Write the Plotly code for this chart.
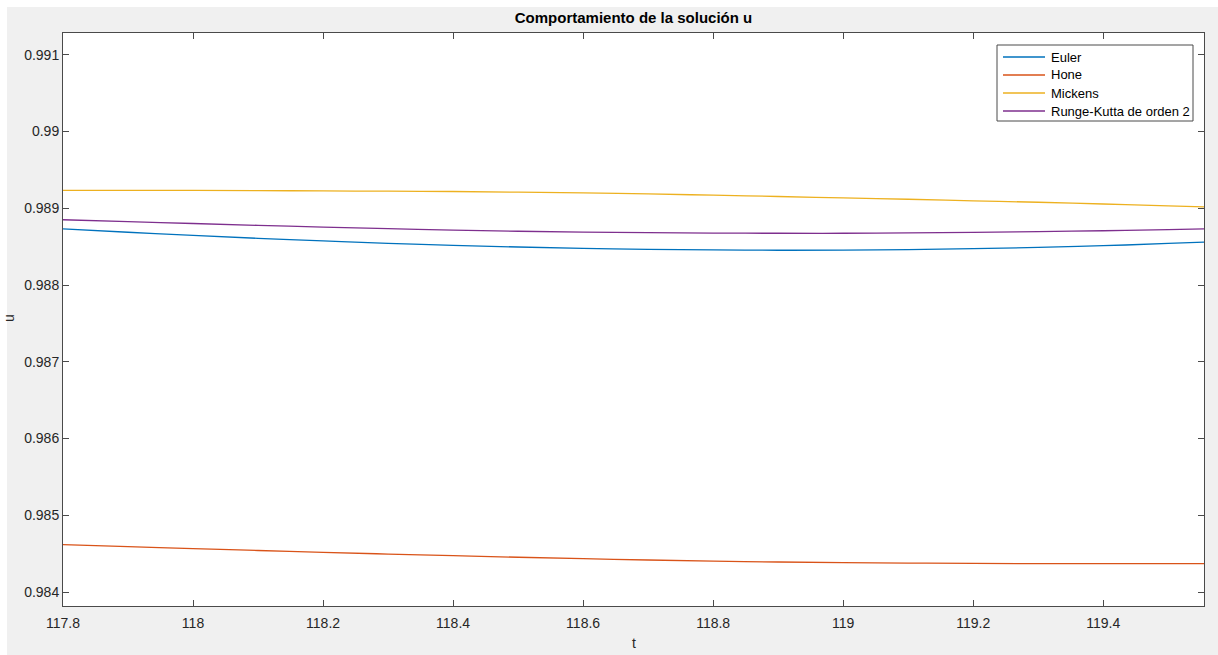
import plotly.graph_objects as go

# Time samples (t) and the four numerical solutions for u
t = [117.8, 117.9, 118.0, 118.1, 118.2, 118.3, 118.4, 118.5, 118.6, 118.7,
     118.8, 118.9, 119.0, 119.1, 119.2, 119.3, 119.4, 119.5, 119.555]

euler = [0.988730, 0.988687, 0.988646, 0.988608, 0.988575, 0.988543, 0.988517,
         0.988495, 0.988478, 0.988465, 0.988457, 0.988453, 0.988455, 0.988461,
         0.988473, 0.988490, 0.988512, 0.988541, 0.988559]

hone = [0.984618, 0.984592, 0.984565, 0.984541, 0.984517, 0.984495, 0.984474,
        0.984453, 0.984434, 0.984417, 0.984403, 0.984391, 0.984382, 0.984377,
        0.984373, 0.984370, 0.984369, 0.984369, 0.984370]

mickens = [0.989234, 0.989234, 0.989233, 0.989230, 0.989226, 0.989222, 0.989218,
           0.989210, 0.989200, 0.989187, 0.989170, 0.989153, 0.989135, 0.989117,
           0.989097, 0.989078, 0.989055, 0.989032, 0.989018]

rk2 = [0.988850, 0.988826, 0.988801, 0.988777, 0.988755, 0.988734, 0.988714,
       0.988700, 0.988689, 0.988681, 0.988676, 0.988674, 0.988674, 0.988678,
       0.988685, 0.988696, 0.988707, 0.988722, 0.988730]

series_names = ["Euler", "Hone", "Mickens", "Runge-Kutta de orden 2"]
series_colors = ["#0072BD", "#D95319", "#EDB120", "#7E2F8E"]

x_tickvals = [117.8, 118.0, 118.2, 118.4, 118.6, 118.8, 119.0, 119.2, 119.4]
x_ticktext = ["117.8", "118", "118.2", "118.4", "118.6", "118.8", "119", "119.2", "119.4"]
y_tickvals = [0.984, 0.985, 0.986, 0.987, 0.988, 0.989, 0.990, 0.991]
y_ticktext = ["0.984", "0.985", "0.986", "0.987", "0.988", "0.989", "0.99", "0.991"]

W, H = 1218, 655
ML, MR, MT, MB = 63, 14, 33, 49
pw, ph = W - ML - MR, H - MT - MB


def px_x(px):
    """Figure pixel column -> paper x."""
    return (px - ML) / pw


def px_y(py):
    """Figure pixel row -> paper y."""
    return (ph + MT - py) / ph


FONT = "Liberation Sans, Arial, Helvetica, sans-serif"
AX = "#4a4a4a"

fig = go.Figure()
for name, ys, col in zip(series_names, [euler, hone, mickens, rk2], series_colors):
    fig.add_trace(go.Scatter(x=t, y=ys, mode="lines", name=name, showlegend=False,
                             line=dict(color=col, width=1.3, shape="spline")))

# Grey figure window background with a thin light border at top/left,
# then a white axes area on top of it
fig.add_shape(type="rect", xref="paper", yref="paper", layer="below",
              x0=px_x(7), x1=px_x(W), y0=px_y(H), y1=px_y(7),
              fillcolor="#f0f0f0", line=dict(width=0))
fig.add_shape(type="rect", xref="paper", yref="paper", layer="below",
              x0=0, x1=1, y0=0, y1=1, fillcolor="#ffffff", line=dict(width=0))

# Legend box drawn in the upper-right corner of the axes
LEG_L, LEG_R, LEG_T, LEG_B = 997, 1193, 45, 121
fig.add_shape(type="rect", xref="paper", yref="paper",
              x0=px_x(LEG_L), x1=px_x(LEG_R), y0=px_y(LEG_B), y1=px_y(LEG_T),
              fillcolor="#ffffff", line=dict(color="#4a4a4a", width=1))
row_y = [57, 75, 93, 111]
for name, col, ry in zip(series_names, series_colors, row_y):
    fig.add_shape(type="line", xref="paper", yref="paper",
                  x0=px_x(1003), x1=px_x(1045), y0=px_y(ry), y1=px_y(ry),
                  line=dict(color=col, width=1.3))
    fig.add_annotation(text=name, xref="paper", yref="paper",
                       x=px_x(1049), y=px_y(ry), xanchor="left", yanchor="middle",
                       showarrow=False,
                       font=dict(family=FONT, size=13, color="#000000"))

axis_common = dict(showgrid=False, zeroline=False, showline=True, linecolor=AX,
                   linewidth=1, mirror="ticks", ticks="inside", ticklen=6,
                   tickcolor=AX, tickwidth=1, automargin=False,
                   tickfont=dict(family=FONT, size=14, color="#262626"))

fig.update_layout(
    width=W, height=H,
    margin=dict(l=ML, r=MR, t=MT, b=MB, pad=0, autoexpand=False),
    paper_bgcolor="#ffffff",
    plot_bgcolor="#ffffff",
    font=dict(family=FONT, size=14, color="#262626"),
    title=dict(text="<b>Comportamiento de la solución u</b>", x=(ML + pw / 2) / W,
               xanchor="center", y=1 - 18 / H, yanchor="middle",
               font=dict(family=FONT, size=15, color="#000000")),
    xaxis=dict(range=[117.8, 119.555], tickvals=x_tickvals, ticktext=x_ticktext,
               ticklabelstandoff=4, **axis_common),
    yaxis=dict(range=[0.983818, 0.991283], tickvals=y_tickvals, ticktext=y_ticktext,
               **axis_common),
    showlegend=False,
)

# Axis labels: "t" below the axes, rotated "u" near the window edge
fig.add_annotation(text="t", xref="paper", yref="paper",
                   x=0.5, y=px_y(643), showarrow=False,
                   xanchor="center", yanchor="middle",
                   font=dict(family=FONT, size=14, color="#262626"))
fig.add_annotation(text="u", textangle=-90, xref="paper", yref="paper",
                   x=px_x(9), y=px_y(318), showarrow=False,
                   xanchor="center", yanchor="middle",
                   font=dict(family=FONT, size=14, color="#262626"))

fig.write_html("out.html")
